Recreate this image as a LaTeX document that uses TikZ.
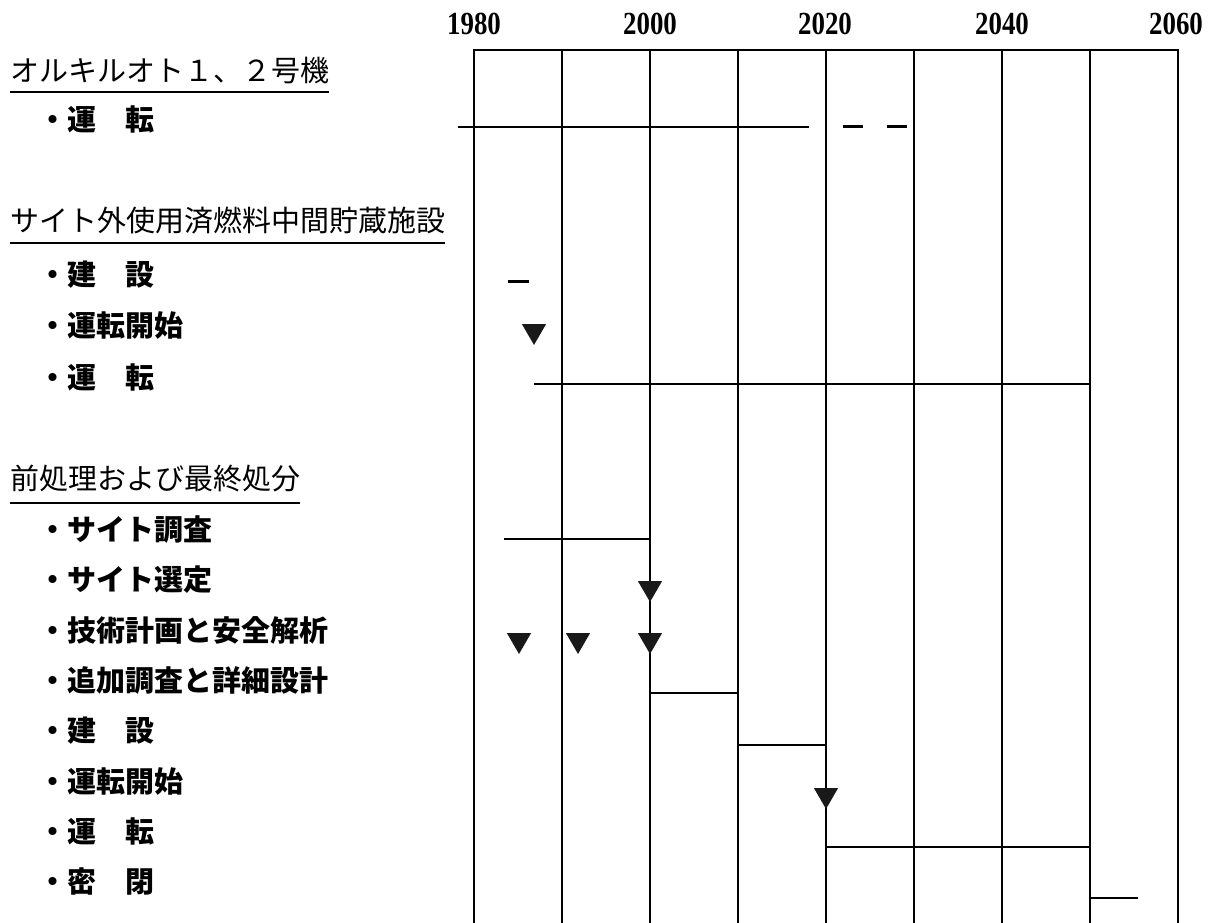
\documentclass[tikz,border=0pt]{standalone}
\usepackage{fontspec}
\usepackage{graphicx}
\newfontfamily\jp{Noto Sans CJK JP}
\newfontfamily\yrfont{Liberation Serif}
\usetikzlibrary{shapes.geometric}
\begin{document}
\begin{tikzpicture}[x=1pt,y=-1pt,
  gridline/.style={line width=2pt},
  bar/.style={line width=1.6pt},
  thickbar/.style={line width=3pt},
  uline/.style={line width=2pt},
  head/.style={anchor=west, inner sep=0pt, font=\jp\fontsize{29}{29}\selectfont, text height=0.83em, text depth=0.07em},
  item/.style={head, font=\jp\bfseries\fontsize{29}{29}\selectfont},
  year/.style={inner sep=0pt, font=\yrfont\bfseries\fontsize{28}{28}\selectfont},
  tri/.style={regular polygon, regular polygon sides=3, shape border rotate=180, fill=black!90, inner sep=0pt, minimum size=28pt}
]
\fill[white] (0,0) rectangle (1211,923);
\useasboundingbox (0,0) rectangle (1211,923);

% year labels
\foreach \yr/\x in {1980/474,2000/650,2020/825,2040/1002,2060/1176}
  \node[year] (y\yr) at (\x,24) {\scalebox{0.96}[1.15]{\yr}};

% grid
\draw[gridline] (473,50) -- (1179,50);
\foreach \i in {0,...,8}
  \draw[gridline] ({474+88*\i},50) -- ({474+88*\i},923);

% labels
\node[head] (h1) at (10,78) {オルキルオト１、２号機};
\node[item] (r1) at (38.5,127) {・運　転};
\node[head] (h2) at (10,228) {サイト外使用済燃料中間貯蔵施設};
\node[item] (r2) at (38.5,282) {・建　設};
\node[item] (r3) at (38.5,333) {・運転開始};
\node[item] (r4) at (38.5,385) {・運　転};
\node[head] (h3) at (10,486) {前処理および最終処分};
\node[item] (r5) at (38.5,537) {・サイト調査};
\node[item] (r6) at (38.5,587) {・サイト選定};
\node[item] (r7) at (38.5,638) {・技術計画と安全解析};
\node[item] (r8) at (38.5,688) {・追加調査と詳細設計};
\node[item] (r9) at (38.5,738) {・建　設};
\node[item] (r10) at (38.5,789) {・運転開始};
\node[item] (r11) at (38.5,839) {・運　転};
\node[item] (r12) at (38.5,889) {・密　閉};

% underlines
\draw[uline] (h1.west |- 0,92) -- (h1.east |- 0,92);
\draw[uline] (h2.west |- 0,243) -- (h2.east |- 0,243);
\draw[uline] (h3.west |- 0,503) -- (h3.east |- 0,503);

% bars
\coordinate (a1) at (458,127); \coordinate (a2) at (809,127);
\draw[bar] (a1) -- (a2);
\coordinate (d1) at (843,127); \coordinate (d2) at (863,127);
\draw[thickbar] (d1) -- (d2);
\coordinate (d3) at (887,127); \coordinate (d4) at (907,127);
\draw[thickbar] (d3) -- (d4);
\coordinate (b1) at (508,281); \coordinate (b2) at (529,281);
\draw[thickbar] (b1) -- (b2);
\coordinate (c1) at (534,384); \coordinate (c2) at (1089,384);
\draw[bar] (c1) -- (c2);
\coordinate (e1) at (504,539); \coordinate (e2) at (650,539);
\draw[bar] (e1) -- (e2);
\coordinate (f1) at (650,693); \coordinate (f2) at (738,693);
\draw[bar] (f1) -- (f2);
\coordinate (g1) at (738,745); \coordinate (g2) at (826,745);
\draw[bar] (g1) -- (g2);
\coordinate (k1) at (826,847); \coordinate (k2) at (1090,847);
\draw[bar] (k1) -- (k2);
\coordinate (m1) at (1090,898); \coordinate (m2) at (1138,898);
\draw[bar] (m1) -- (m2);

% milestones
\node[tri] (t1) at (534,331) {};
\node[tri] (t2) at (650,588) {};
\node[tri] (t3) at (519,640) {};
\node[tri] (t4) at (578,640) {};
\node[tri] (t5) at (650,640) {};
\node[tri] (t6) at (826,795) {};
\end{tikzpicture}
\end{document}
